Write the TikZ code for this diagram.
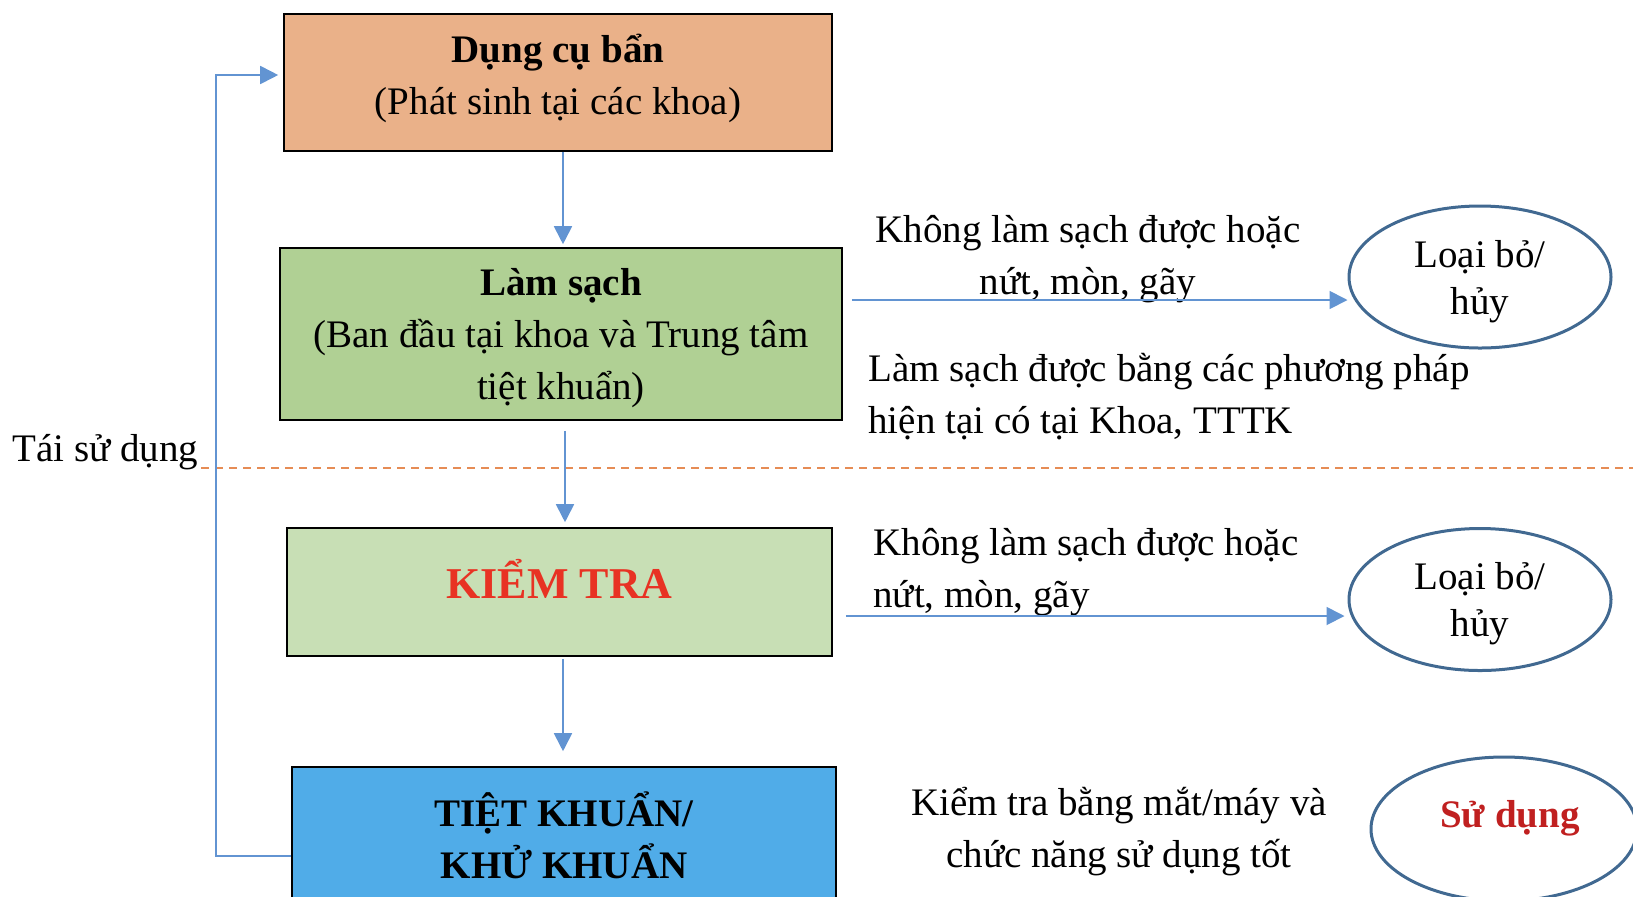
\documentclass[tikz,border=0pt]{standalone}
\usepackage{fontspec}
\setmainfont{Liberation Serif}
\usetikzlibrary{positioning,shapes.geometric,arrows.meta}
\definecolor{dirtyfill}{RGB}{234,177,137}
\definecolor{cleanfill}{RGB}{176,208,148}
\definecolor{checkfill}{RGB}{200,223,181}
\definecolor{sterfill}{RGB}{80,172,232}
\definecolor{arrowblue}{RGB}{98,148,210}
\definecolor{ellblue}{RGB}{65,105,145}
\definecolor{dashorange}{RGB}{230,140,85}
\definecolor{checkred}{RGB}{232,50,35}
\definecolor{usered}{RGB}{192,32,32}
\newcommand\diagfont{\fontsize{19.5}{26}\selectfont}
\begin{document}
\begin{tikzpicture}[x=0.5pt,y=-0.5pt,
  every node/.style={font=\diagfont,inner sep=0pt},
  stepbox/.style={draw=black,line width=0.8pt,align=center},
  flow/.style={draw=arrowblue,line width=0.9pt,-{Triangle[length=9pt,width=9pt]}},
  bin/.style={ellipse,draw=ellblue,line width=1.5pt,minimum width=131pt,minimum height=71pt,align=center,text depth=0pt},
  note/.style={align=center},
  divider/.style={draw=dashorange,line width=0.75pt,dash pattern=on 4pt off 3pt}]
\clip (0,0) rectangle (1633,896);
\node[stepbox,fill=dirtyfill,minimum width=274pt,minimum height=68.5pt,text depth=8.5pt] (dirty) at (558,82.5)
  {\textbf{Dụng cụ bẩn}\\(Phát sinh tại các khoa)};
\node[stepbox,fill=cleanfill,minimum width=281pt,minimum height=86pt,text depth=0pt] (clean) at (561,334)
  {\textbf{Làm sạch}\\(Ban đầu tại khoa và Trung tâm\\tiệt khuẩn)};
\node[stepbox,fill=checkfill,minimum width=272.5pt,minimum height=64pt,text depth=13pt,
  font=\fontsize{22}{26}\selectfont\bfseries,text=checkred] (check) at (559.5,592) {KIỂM TRA};
\node[stepbox,fill=sterfill,minimum width=272pt,minimum height=68pt,
  font=\diagfont\bfseries] (steril) at (564,835) {TIỆT KHUẨN/\\KHỬ KHUẨN};
\node[bin] (bin1) at (1480,277) {Loại bỏ/\\[-2.5pt]hủy};
\node[bin] (bin2) at (1480,599.5) {Loại bỏ/\\[-2.5pt]hủy};
\node[bin,minimum width=133pt,minimum height=72pt] (use) at (1504,829) {};
\node[text=usered,font=\diagfont\bfseries] (usetxt) at (1510,818) {Sử dụng};
\node[note] (fail1) at (1088,259.5) {Không làm sạch được hoặc\\nứt, mòn, gãy};
\node[align=left,anchor=west] (pass1) at (868,396.5) {Làm sạch được bằng các phương pháp\\hiện tại có tại Khoa, TTTK};
\node[align=left,anchor=west] (fail2) at (873,572.5) {Không làm sạch được hoặc\\nứt, mòn, gãy};
\node[note] (pass2) at (1119,832) {Kiểm tra bằng mắt/máy và\\chức năng sử dụng tốt};
\node[anchor=west] (reuse) at (12,452) {Tái sử dụng};
\draw[divider] (201,468) -- (1633,468);
\draw[flow,shorten >=1.5pt] ([xshift=2.5pt]dirty.south) -- ([xshift=2.5pt]dirty.south |- clean.north);
\draw[flow,shorten <=5pt,shorten >=2.5pt] ([xshift=2pt]clean.south) -- ([xshift=2pt]clean.south |- check.north);
\draw[flow,shorten <=1pt,shorten >=7.5pt] ([xshift=1.75pt]check.south) -- ([xshift=1.75pt]check.south |- steril.north);
\coordinate (lane1) at (0,300);
\coordinate (lane2) at (0,616);
\draw[flow,shorten <=4.5pt] (clean.east |- lane1) -- (bin1.west |- lane1);
\draw[flow,shorten <=6.5pt,shorten >=1.5pt] (check.east |- lane2) -- (bin2.west |- lane2);
\coordinate (loopb) at (216,856);
\coordinate (loopt) at (216,75);
\draw[flow,shorten >=2.5pt] (steril.west |- loopb) -- (loopb) -- (loopt) -- (dirty.west |- loopt);
\end{tikzpicture}
\end{document}
